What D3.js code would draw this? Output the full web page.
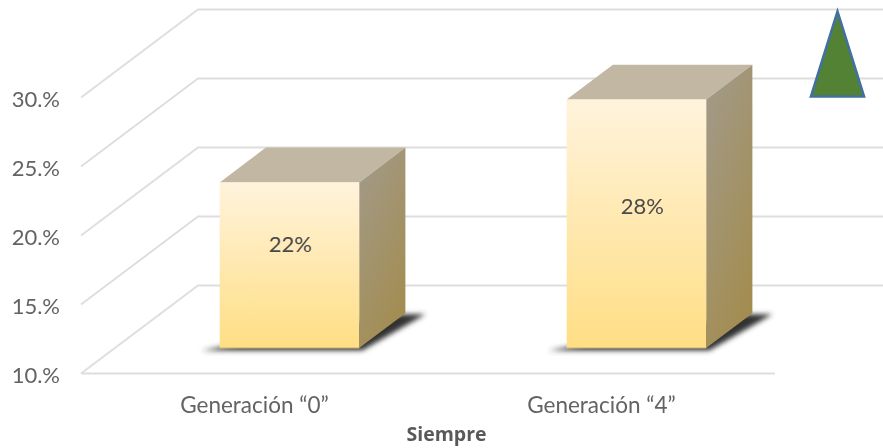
<!DOCTYPE html>
<html><head><meta charset="utf-8">
<script src="https://cdn.jsdelivr.net/npm/d3@7"></script>
<style>html,body{margin:0;background:#fff}svg{display:block;filter:blur(0.4px)}text{font-family:Lato,sans-serif}</style>
</head><body><svg id="c" width="883" height="448"></svg>
<script>
const categories = ["Generación “0”", "Generación “4”"];
const values = [22, 28];
const valueLabels = ["22%", "28%"];
const ticks = [10, 15, 20, 25, 30];
const tickLabels = ["10.%", "15.%", "20.%", "25.%", "30.%"];
const axisTitle = "Siempre";

const svg = d3.select("#c");
const y = d3.scaleLinear().domain([10, 30]).range([373.5, 97.5]);
const x = d3.scaleBand().domain(categories).range([81, 775]);
const depth = {dx: 117, dy: -88};      // chart depth
const barPlane = 0.29;                 // bar front plane, fraction of depth
const barDepth = 0.395;                // bar depth, fraction of depth
const barWidth = 139.5;
const labelShift = [{dx: 1, dy: -21}, {dx: 6, dy: -17}]; // label placement per bar
const P = (px, py, t) => [px + depth.dx * t, py + depth.dy * t];

const defs = svg.append("defs");
const fg = defs.append("linearGradient").attr("id", "front").attr("x1", 0).attr("x2", 0).attr("y1", 0).attr("y2", 1);
fg.append("stop").attr("offset", 0).attr("stop-color", "#FFF3DC");
fg.append("stop").attr("offset", 1).attr("stop-color", "#FFDE84");
const sg = defs.append("linearGradient").attr("id", "side").attr("x1", 0.2).attr("x2", 0.7).attr("y1", 0).attr("y2", 1);
sg.append("stop").attr("offset", 0).attr("stop-color", "#A29A88");
sg.append("stop").attr("offset", 1).attr("stop-color", "#A38C4E");
defs.append("filter").attr("id", "blur").attr("x", "-20%").attr("y", "-30%").attr("width", "140%").attr("height", "160%")
  .append("feGaussianBlur").attr("stdDeviation", 2.8);

const grid = "#DEDEDE";
const line = d => d3.line()(d);
const g = svg.append("g");

ticks.forEach(t => {
  const a = P(x.range()[0], y(t), 0), b = P(x.range()[0], y(t), 1), c = P(x.range()[1], y(t), 1);
  g.append("path").attr("d", line([a, b, c])).attr("fill", "none").attr("stroke", grid).attr("stroke-width", 1.9);
});
g.append("line").attr("x1", x.range()[0]).attr("x2", x.range()[1]).attr("y1", y(10)).attr("y2", y(10))
  .attr("stroke", grid).attr("stroke-width", 1.9);

categories.forEach((cat, i) => {
  const cx = x(cat) + x.bandwidth() / 2;
  const [c0raw, base] = P(cx, y(10), barPlane);
  const c0 = c0raw + 1;
  const [, top] = P(cx, y(values[i]), barPlane);
  const l = c0 - barWidth / 2, r = c0 + barWidth / 2;
  const dx = depth.dx * barDepth, dy = depth.dy * barDepth;
  const bar = svg.append("g");
  const poly = pts => pts.map(p => p.join(",")).join(" ");
  bar.append("polygon").attr("filter", "url(#blur)").attr("fill", "#333")
    .attr("points", poly([[l - 18, base + 2.5], [r + 3, base + 2.5], [r + dx + 20, base + dy + 1], [r + dx - 5, base + dy + 1]]));
  bar.append("polygon").attr("fill", "#C1B7A3").attr("points", poly([[l, top], [r, top], [r + dx, top + dy], [l + dx, top + dy]]));
  bar.append("polygon").attr("fill", "url(#side)").attr("points", poly([[r, top], [r + dx, top + dy], [r + dx, base + dy], [r, base]]));
  bar.append("rect").attr("x", l).attr("y", top).attr("width", barWidth).attr("height", base - top).attr("fill", "url(#front)");
  bar.append("line").attr("x1", l).attr("x2", r).attr("y1", base).attr("y2", base).attr("stroke", "#CDB877").attr("stroke-width", 1);
  bar.append("text").attr("x", c0 + labelShift[i].dx).attr("y", (top + base) / 2 + labelShift[i].dy).attr("dy", "0.35em").attr("text-anchor", "middle")
    .attr("font-size", 22).attr("fill", "#4a4a4a").text(valueLabels[i]);
});

ticks.forEach((t, i) => {
  svg.append("text").attr("x", 60).attr("y", y(t) + 1.5).attr("dy", "0.35em").attr("text-anchor", "end")
    .attr("font-size", 22).attr("fill", "#636363").text(tickLabels[i]);
});
categories.forEach(cat => {
  svg.append("text").attr("x", x(cat) + x.bandwidth() / 2).attr("y", 405).attr("dy", "0.35em").attr("text-anchor", "middle")
    .attr("font-size", 22.5).attr("fill", "#636363").text(cat);
});
svg.append("text").attr("x", 446.5).attr("y", 434).attr("dy", "0.35em").attr("text-anchor", "middle")
  .attr("font-size", 19.5).attr("font-weight", 700).attr("fill", "#595959")
  .style("font-family", "'Open Sans',sans-serif").text(axisTitle);

const triX = d3.scaleLinear().domain([0, 1]).range([811, 864]);
svg.append("polygon")
  .attr("points", [[triX(0), y(30) - 1], [triX(1), y(30) - 1], [triX(0.5), y(30) + depth.dy + 2]].map(p => p.join(",")).join(" "))
  .attr("fill", "#548235").attr("stroke", "#41719C").attr("stroke-width", 2.6);
</script></body></html>
